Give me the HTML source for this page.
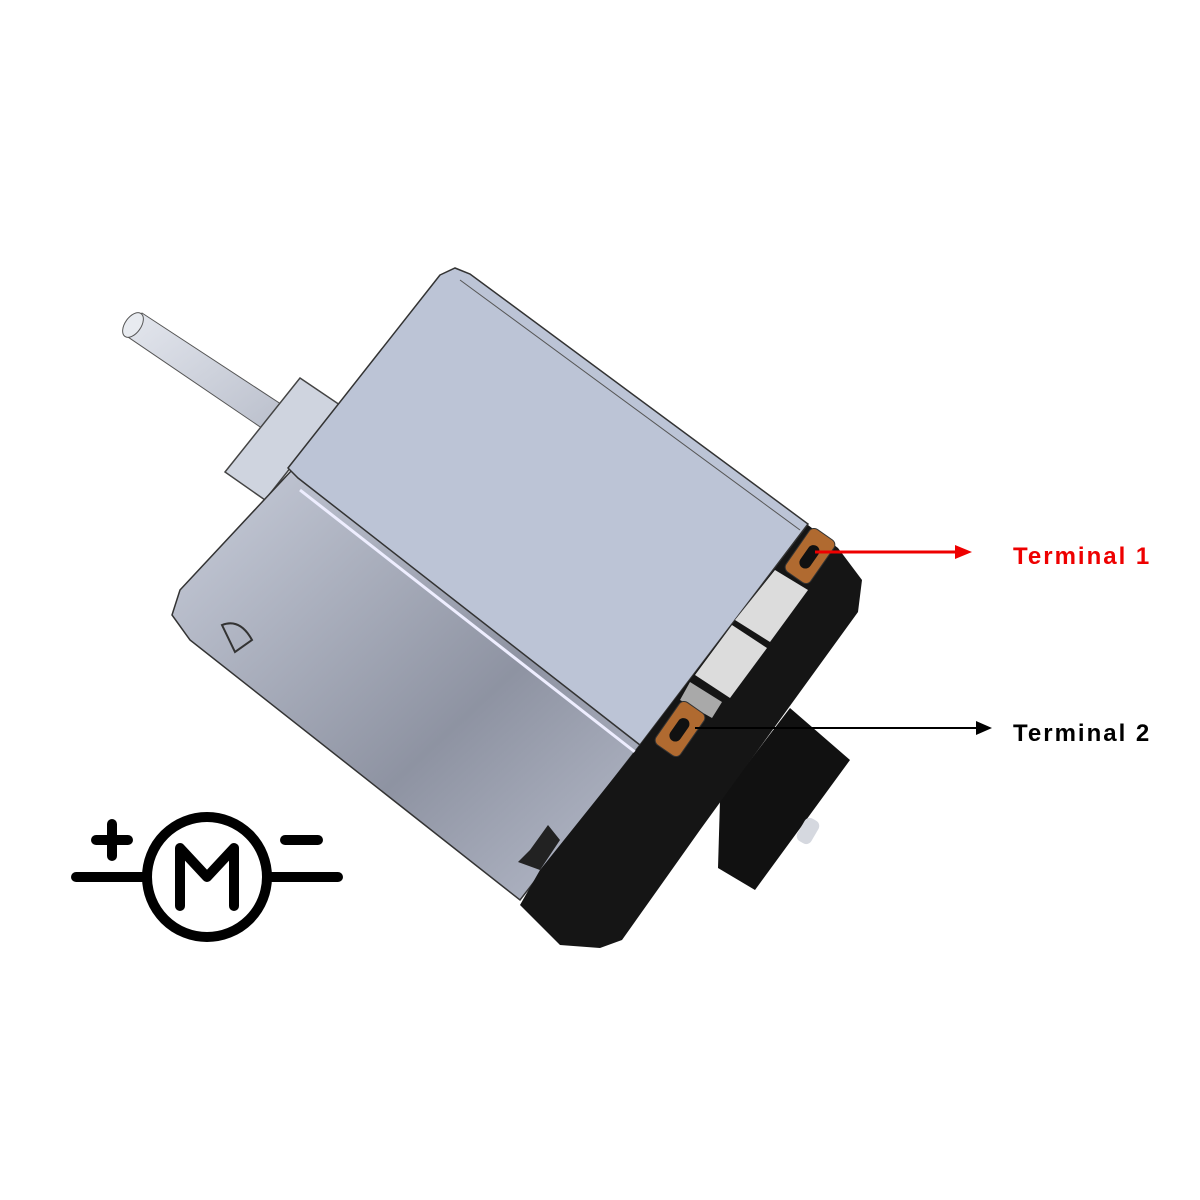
<!DOCTYPE html>
<html><head><meta charset="utf-8"><style>
html,body{margin:0;padding:0;background:#fff;}
svg{display:block}
text{font-family:"Liberation Sans",sans-serif;font-weight:bold;font-size:24px;letter-spacing:2px}
</style></head><body>
<svg width="1200" height="1200" viewBox="0 0 1200 1200" xmlns="http://www.w3.org/2000/svg">
<defs>
<linearGradient id="fr" x1="0" y1="0" x2="1" y2="1">
<stop offset="0" stop-color="#c9cedb"/><stop offset="0.6" stop-color="#8e93a2"/><stop offset="1" stop-color="#b7bccb"/>
</linearGradient>
<linearGradient id="sh" x1="0" y1="0" x2="1" y2="1">
<stop offset="0" stop-color="#e4e7ee"/><stop offset="1" stop-color="#b8bdca"/>
</linearGradient>
</defs>
<!-- shaft -->
<polygon points="125,335 142,313 290,410 272,435" fill="url(#sh)" stroke="#555" stroke-width="1"/>
<ellipse cx="133" cy="325" rx="8" ry="14" transform="rotate(35 133 325)" fill="#e8ebf0" stroke="#555"/>
<!-- flange -->
<polygon points="300,378 340,405 265,500 225,472" fill="#cfd4df" stroke="#444" stroke-width="1.5"/>
<!-- boss behind -->
<polygon points="790,708 850,760 755,890 718,868 720,800" fill="#111"/>
<rect x="800" y="818" width="16" height="26" rx="6" fill="#d5d8df" transform="rotate(30 808 831)"/>
<!-- front face -->
<polygon points="292,470 640,745 520,900 190,640 172,615 180,590" fill="url(#fr)" stroke="#333" stroke-width="1.5"/>
<!-- top face -->
<polygon points="440,275 455,268 470,274 808,524 640,745 298,478 288,468" fill="#bcc4d6" stroke="#333" stroke-width="1.5"/>
<polyline points="460,280 800,530" fill="none" stroke="#555" stroke-width="1"/>
<polyline points="300,490 635,752" fill="none" stroke="#eef" stroke-width="3"/>
<path d="M222,625 Q240,618 252,640 L235,652 Z" fill="none" stroke="#333" stroke-width="2"/>
<!-- black cap -->
<polygon points="640,745 808,525 838,548 862,580 858,612 700,830 622,940 600,948 560,945 520,905 540,870 560,845" fill="#151515"/>
<polygon points="530,850 548,825 560,840 540,870 518,862" fill="#222"/>
<!-- white blocks -->
<polygon points="775,570 808,590 770,642 735,620" fill="#dcdcdc"/>
<polygon points="732,625 767,648 730,698 695,675" fill="#dcdcdc"/>
<polygon points="690,682 722,702 712,718 680,700" fill="#a9a9a9"/>
<!-- terminals -->
<rect x="795" y="530" width="30" height="52" rx="6" fill="#b06a30" stroke="#333" transform="rotate(35 810 556)"/>
<rect x="804" y="544" width="12" height="26" rx="6" fill="#111" transform="rotate(35 810 556)"/>
<rect x="665" y="703" width="30" height="52" rx="6" fill="#b06a30" stroke="#333" transform="rotate(35 680 729)"/>
<rect x="674" y="717" width="12" height="26" rx="6" fill="#111" transform="rotate(35 680 729)"/>
<!-- arrows -->
<line x1="815" y1="552" x2="958" y2="552" stroke="#e00" stroke-width="3"/>
<polygon points="972,552 955,545 955,559" fill="#e00"/>
<line x1="695" y1="728" x2="978" y2="728" stroke="#000" stroke-width="2"/>
<polygon points="992,728 976,721 976,735" fill="#000"/>
<text x="1013" y="564" fill="#e00">Terminal 1</text>
<text x="1013" y="741" fill="#000">Terminal 2</text>
<!-- symbol -->
<g stroke="#000" stroke-width="10" stroke-linecap="round" fill="none">
<circle cx="207" cy="877" r="60"/>
<line x1="76" y1="877" x2="146" y2="877"/>
<line x1="268" y1="877" x2="338" y2="877"/>
<line x1="96" y1="840" x2="128" y2="840"/>
<line x1="112" y1="824" x2="112" y2="856"/>
<line x1="285" y1="840" x2="318" y2="840"/>
<polyline points="180,906 180,848 207,877 234,848 234,906" stroke-linejoin="round"/>
</g>
</svg>
</body></html>
